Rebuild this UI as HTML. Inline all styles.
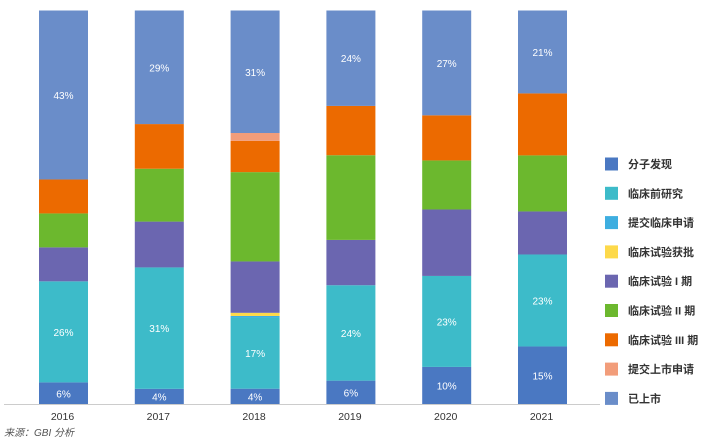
<!DOCTYPE html>
<html><head><meta charset="utf-8"><style>
html,body{margin:0;padding:0;background:#fff;width:706px;height:445px;overflow:hidden}
svg text{font-family:"Liberation Sans","Noto Sans CJK SC",sans-serif}
</style></head><body>
<svg id="chart" width="706" height="445"></svg>
<script>
const years = ["2016","2017","2018","2019","2020","2021"];
const seriesNames = ["分子发现","临床前研究","提交临床申请","临床试验获批","临床试验 I 期","临床试验 II 期","临床试验 III 期","提交上市申请","已上市"];
const molecule = [5.6, 4, 4, 6, 9.5, 14.7];
const preclinical = [25.6, 31, 18, 24, 23, 23.3];
const ind = [0, 0, 0.4, 0, 0, 0];
const approved = [0, 0, 0.8, 0, 0, 0];
const phase1 = [8.6, 11.7, 13, 11.4, 16.8, 10.9];
const phase2 = [8.6, 13.5, 22.6, 21.3, 12.4, 14.2];
const phase3 = [8.6, 11.4, 7.9, 12.4, 11.4, 15.7];
const nda = [0, 0, 2, 0, 0, 0];
const marketed = [42.8, 29, 31, 24, 26.5, 21];
const labelsMolecule = ["6%","4%","4%","6%","10%","15%"];
const labelsPre = ["26%","31%","17%","24%","23%","23%"];
const labelsMarket = ["43%","29%","31%","24%","27%","21%"];
const colors = ["#4a78c2","#3dbbc9","#3eaee0","#fdd94a","#6b66b0","#6cb82e","#ec6a00","#f29d7a","#6a8dc9"];
const series = [molecule,preclinical,ind,approved,phase1,phase2,phase3,nda,marketed];
const seriesKeys = ["molecule","preclinical","ind","approved","phase1","phase2","phase3","nda","marketed"];

const svg = document.getElementById('chart');
const NS = "http://www.w3.org/2000/svg";
const top0 = 10.5, bottom0 = 404.5, barW = 49, x0 = 39, step = 95.8;
const xPos = i => x0 + i * step;
function mk(tag, attrs, parent){ const e=document.createElementNS(NS,tag); for(const k in attrs) e.setAttribute(k,attrs[k]); (parent||svg).appendChild(e); return e; }

years.forEach((y, i) => {
  let total = 0; series.forEach(s => total += s[i]);
  const scale = v => v / total * (bottom0 - top0);
  let cur = bottom0;
  const g = mk('g', {});
  
  
  series.forEach((s, k) => {
    const h = scale(s[i]);
    if (h <= 0) return;
    cur -= h;
    const r = mk('rect', {x: xPos(i), y: cur, width: barW, height: h, fill: colors[k]}, g);
    
    
    let lab = null;
    if (k === 0) lab = labelsMolecule[i];
    if (k === 1) lab = labelsPre[i];
    if (k === 8) lab = labelsMarket[i];
    if (lab) {
      const t = mk('text', {x: xPos(i) + barW/2, y: cur + h/2 + 4, 'text-anchor': 'middle', 'font-size': 10, fill: '#fff'}, g);
      t.textContent = lab;
      
      
    }
  });
  const xl = mk('text', {x: xPos(i) + barW/2 - 1, y: 420, 'text-anchor': 'middle', 'font-size': 10.5, fill: '#333'});
  xl.textContent = y;
  
  
});

const axis = mk('line', {x1: 4, x2: 600, y1: 404.5, y2: 404.5, stroke: '#ccc', 'stroke-width': 1});



seriesNames.forEach((n, k) => {
  const cy = 164 + k * 29.3;
  const g = mk('g', {});
  
  
  mk('rect', {x: 605, y: cy - 6.5, width: 13, height: 13, fill: colors[k]}, g);
  const t = mk('text', {x: 628, y: cy + 4, 'font-size': 11, 'font-weight': 'bold', fill: '#333'}, g);
  t.textContent = n;
});

const src = mk('text', {x: 4, y: 436, 'font-size': 10, 'font-style': 'italic', fill: '#555'});
src.textContent = "来源：GBI 分析";


</script>
</body></html>
